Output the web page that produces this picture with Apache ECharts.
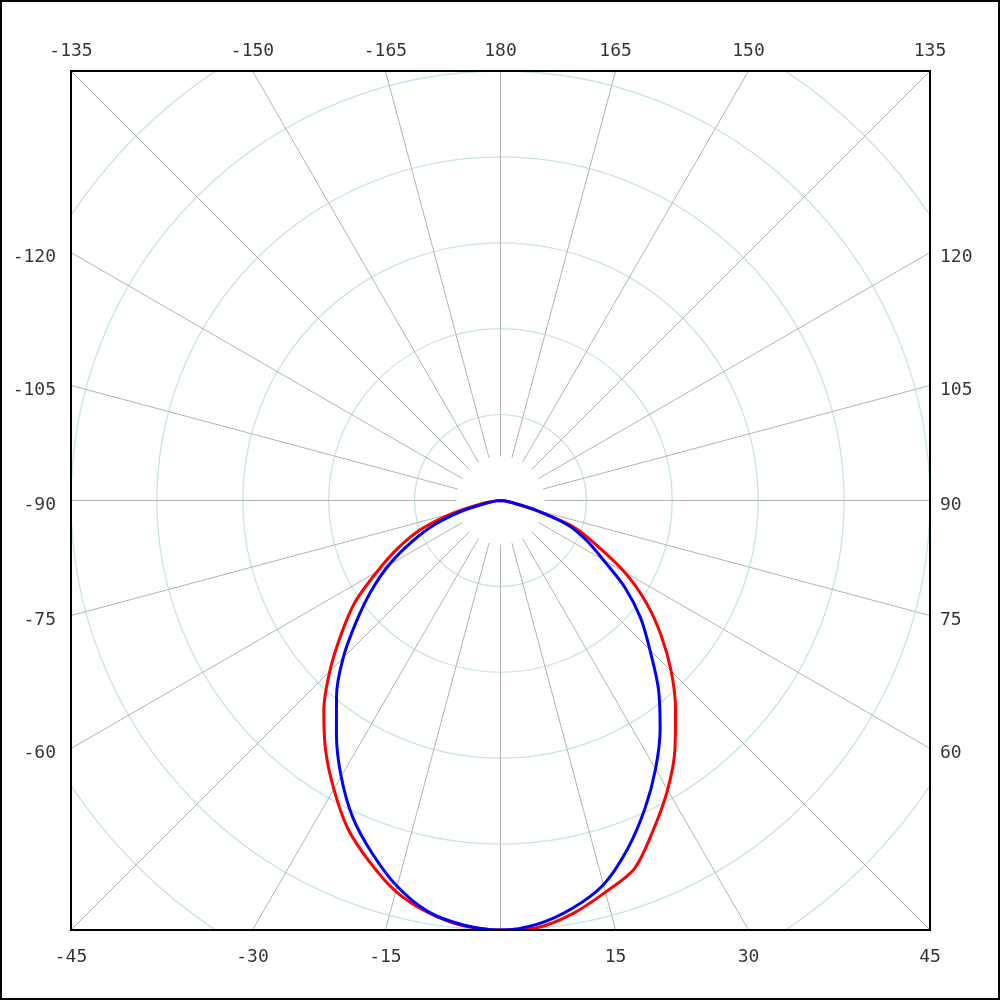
<!DOCTYPE html>
<html><head><meta charset="utf-8">
<script src="https://cdn.jsdelivr.net/npm/echarts@6/dist/echarts.min.js"></script>
<style>html,body{margin:0;padding:0;background:#fff}#c{width:1000px;height:1000px}</style>
</head><body><div id="c"></div>
<script>
// Angles (degrees, 0 = down, positive to the right)
const angles = [-90,-85,-80,-75,-70,-65,-60,-55,-50,-45,-40,-35,-30,-25,-20,-15,-10,-5,0,5,10,15,20,25,30,35,40,45,50,55,60,65,70,75,80,85,90];
// Red curve
const redValues = [0,0.05,0.24,0.58,0.99,1.32,1.66,2.07,2.42,2.81,3.20,3.55,3.88,4.21,4.47,4.71,4.87,4.97,5.0,4.99,4.88,4.72,4.56,4.22,3.89,3.54,3.17,2.81,2.44,2.07,1.67,1.24,0.91,0.40,0.14,0.04,0];
// Blue curve
const blueValues = [0,0.05,0.15,0.45,0.81,1.14,1.50,1.84,2.19,2.59,2.97,3.33,3.71,4.07,4.37,4.65,4.86,4.96,5.0,4.95,4.82,4.63,4.32,3.97,3.61,3.24,2.86,2.46,2.13,1.77,1.38,1.11,0.84,0.41,0.12,0.04,0];
// Tick labels around the frame
const topTicks = [-135,-150,-165,180,165,150,135];
const bottomTicks = [-45,-30,-15,15,30,45];
const leftTicks = [-120,-105,-90,-75,-60];
const rightTicks = [120,105,90,75,60];

const UNIT = 85.9;          // px per radial unit
const CX = 500.5, CY = 500.5;

function borderPoint(a){
  const r = a*Math.PI/180;
  let x = Math.sin(r), y = -Math.cos(r);
  const k = Math.max(Math.abs(x), Math.abs(y));
  return [x/k, y/k];
}
const labelFont = {fontFamily:'DejaVu Sans Mono', fontSize:18, color:'#000'};
const labelData = [];
topTicks.forEach(a=>labelData.push({value:borderPoint(a), name:String(a), label:Object.assign({show:true, position:'top', distance:11, formatter:'{b}'}, labelFont)}));
bottomTicks.forEach(a=>labelData.push({value:borderPoint(a), name:String(a), label:Object.assign({show:true, position:'bottom', distance:18, formatter:'{b}'}, labelFont)}));
leftTicks.forEach(a=>labelData.push({value:borderPoint(a), name:String(a), label:Object.assign({show:true, position:'left', distance:15, offset:[0,5], formatter:'{b}'}, labelFont)}));
rightTicks.forEach(a=>labelData.push({value:borderPoint(a), name:String(a), label:Object.assign({show:true, position:'right', distance:10, offset:[0,5], formatter:'{b}'}, labelFont)}));

const chart = echarts.init(document.getElementById('c'), null, {renderer:'canvas'});
const hidden = {axisLine:{show:false}, axisTick:{show:false}, axisLabel:{show:false}};
chart.setOption({
  animation:false,
  backgroundColor:'#fff',
  polar:[
    {center:[CX, CY], radius:[44, 620]},
    {center:[CX, CY], radius:[0, 6*UNIT]}
  ],
  angleAxis:[
    Object.assign({polarIndex:0, type:'value', min:-180, max:180, interval:15, startAngle:90, clockwise:false,
      splitLine:{show:true, lineStyle:{color:'#b4b4b4', width:1}}}, hidden),
    Object.assign({polarIndex:1, type:'value', min:-180, max:180, interval:15, startAngle:90, clockwise:false,
      splitLine:{show:false}}, hidden)
  ],
  radiusAxis:[
    Object.assign({polarIndex:0, type:'value', min:0, max:1, splitLine:{show:false}}, hidden),
    Object.assign({polarIndex:1, type:'value', min:0, max:6, interval:1,
      splitLine:{show:true, lineStyle:{color:'#c8e3ec', width:1.3}}}, hidden)
  ],
  grid:{left:71, top:71, width:859, height:859, show:false},
  xAxis:Object.assign({type:'value', min:-1, max:1, splitLine:{show:false}}, hidden),
  yAxis:Object.assign({type:'value', min:-1, max:1, splitLine:{show:false}}, hidden),
  graphic:[
    {type:'rect', z:100, shape:{x:0, y:0, width:1000, height:70}, style:{fill:'#fff'}, silent:true},
    {type:'rect', z:100, shape:{x:0, y:931, width:1000, height:69}, style:{fill:'#fff'}, silent:true},
    {type:'rect', z:100, shape:{x:0, y:0, width:70, height:1000}, style:{fill:'#fff'}, silent:true},
    {type:'rect', z:100, shape:{x:931, y:0, width:69, height:1000}, style:{fill:'#fff'}, silent:true},
    {type:'rect', z:150, shape:{x:71, y:71, width:859, height:859}, style:{fill:null, stroke:'#000', lineWidth:2}, silent:true},
    {type:'rect', z:150, shape:{x:1, y:1, width:998, height:998}, style:{fill:null, stroke:'#000', lineWidth:2}, silent:true}
  ],
  series:[
    {type:'line', name:'Red', coordinateSystem:'polar', polarIndex:1, symbol:'none', z:5, smooth:0.3,
      lineStyle:{color:'#ff0000', width:3}, data:angles.map((a,i)=>[redValues[i], a])},
    {type:'line', name:'Blue', coordinateSystem:'polar', polarIndex:1, symbol:'none', z:6, smooth:0.3,
      lineStyle:{color:'#0000ff', width:3}, data:angles.map((a,i)=>[blueValues[i], a])},
    {type:'scatter', name:'labels', symbolSize:0, z:200, silent:true, data:labelData}
  ]
});
</script></body></html>
